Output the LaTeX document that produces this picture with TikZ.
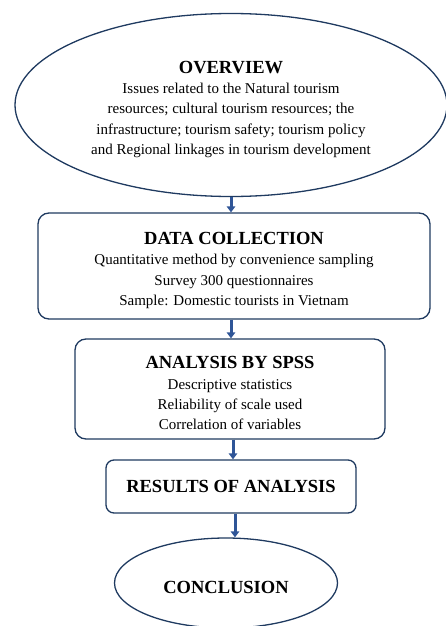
\documentclass[tikz,border=0pt]{standalone}
\usepackage{fontspec}
\setmainfont{Liberation Serif}
\usepackage{tikz}
\usetikzlibrary{arrows.meta,shapes,positioning}
\definecolor{navy}{HTML}{1F3A60}
\definecolor{arrowblue}{HTML}{2F5597}
\newcommand{\headfont}{\fontsize{18.5}{20}\selectfont\bfseries}
\newcommand{\bodyfont}{\fontsize{15}{20.3}\selectfont}
\newcommand{\topgap}{\rule{0pt}{21pt}}
\tikzstyle{arrow}   = [draw=arrowblue,line width=3pt,-{Triangle[width=8.5pt,length=6pt]}]
\tikzstyle{oval}    = [ellipse,draw=navy,line width=1.3pt,align=center,inner sep=0pt,font=\bodyfont]
\tikzstyle{block}   = [rectangle,rounded corners=11pt,draw=navy,line width=1.3pt,align=center,inner sep=0pt,font=\bodyfont]

\begin{document}
\begin{tikzpicture}[x=1pt,y=-1pt]
        \useasboundingbox (0,0) rectangle (445,626);
        \node[oval, minimum width=432pt, minimum height=183pt] (over) at (231,105)
            {{\headfont\topgap OVERVIEW}\\
             Issues related to the Natural tourism\\
             resources; cultural tourism resources; the\\
             infrastructure; tourism safety; tourism policy\\
             and Regional linkages in tourism development};
        \node[block, minimum width=392pt, minimum height=106pt] (data) at (234,266)
            {{\headfont\topgap DATA COLLECTION}\\
             Quantitative method by convenience sampling\\
             Survey 300 questionnaires\\
             Sample: Domestic tourists in Vietnam};
        \node[block, minimum width=310pt, minimum height=100pt] (spss) at (230,389)
            {{\headfont\topgap ANALYSIS BY SPSS}\\
             Descriptive statistics\\
             Reliability of scale used\\
             Correlation of variables};
        \node[block, rounded corners=8pt, minimum width=250pt, minimum height=53pt] (res) at (231,486.5)
            {\headfont RESULTS OF ANALYSIS};
        \node[oval, minimum width=223pt, minimum height=90pt] (concl) at (226,583)
            {\headfont\rule{0pt}{22pt}CONCLUSION};

        % connectors
        \draw[arrow] (over.south) -- (over.south |- data.north);
        \draw[arrow] ([xshift=-3pt]data.south) -- ([xshift=-3pt]data.south |- spss.north);
        \draw[arrow] ([xshift=3pt]spss.south) -- ([xshift=3pt]spss.south |- res.north);
        \draw[arrow] ([xshift=4pt]res.south) -- ([xshift=4pt]res.south |- concl.north);
    \end{tikzpicture}
\end{document}
